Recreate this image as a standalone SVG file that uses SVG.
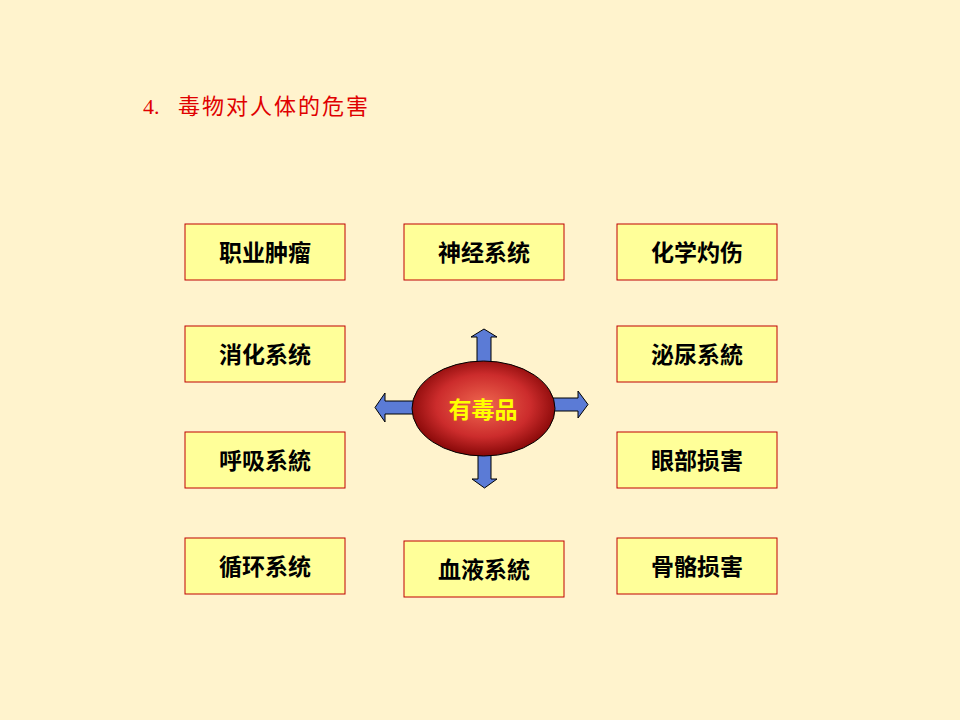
<svg xmlns="http://www.w3.org/2000/svg" width="960" height="720" viewBox="0 0 960 720">
  <defs>
    <style>
      .box { fill: #FFFF99; stroke: #C00000; stroke-width: 1; }
      .lbl { font-family: "Noto Sans CJK SC", "Liberation Serif", serif; font-size: 23px; font-weight: bold; fill: #000000; text-anchor: middle; dominant-baseline: central; }
      .arrow { fill: #5B7BD6; stroke: #000000; stroke-width: 1; stroke-linejoin: miter; }
      .title { font-family: "Liberation Serif", "Noto Sans CJK SC", serif; font-size: 22px; fill: #E00000; }
    </style>
    <radialGradient id="redGrad" cx="50%" cy="47%" r="55%">
      <stop offset="0" stop-color="#F06850"/>
      <stop offset="0.6" stop-color="#CC2C2C"/>
      <stop offset="1" stop-color="#800404"/>
    </radialGradient>
  </defs>
  <rect x="0" y="0" width="960" height="720" fill="#FFF3CD"/>

  <text class="title" x="143" y="114">4.<tspan x="178" font-family="Noto Sans CJK SC, sans-serif" font-size="22" letter-spacing="2">毒物对人体的危害</tspan></text>

  <g id="connectors">
    <polygon class="arrow" points="477,368 477,337 471,337 484,329 497,337 491,337 491,368"/>
    <polygon class="arrow" points="420,401 385,401 385,393 375,407.5 385,422 385,414 420,414"/>
    <polygon class="arrow" points="548,398 578,398 578,391 588,404.5 578,418 578,411 548,411"/>
    <polygon class="arrow" points="478,448 478,479 472,479 484.5,488 497,479 491,479 491,448"/>
  </g>

  <g id="center">
    <ellipse cx="483.5" cy="408.5" rx="71.5" ry="47.5" fill="url(#redGrad)" stroke="#000000" stroke-width="1"/>
    <text class="lbl" x="483" y="408" style="fill:#FFFF00">有毒品</text>
  </g>

  <g id="n1"><rect class="box" x="185" y="224" width="160" height="56"/><text class="lbl" x="265" y="251">职业肿瘤</text></g>
  <g id="n2"><rect class="box" x="404" y="224" width="160" height="56"/><text class="lbl" x="484" y="251">神经系统</text></g>
  <g id="n3"><rect class="box" x="617" y="224" width="160" height="56"/><text class="lbl" x="697" y="251">化学灼伤</text></g>
  <g id="n4"><rect class="box" x="185" y="326" width="160" height="56"/><text class="lbl" x="265" y="353">消化系统</text></g>
  <g id="n5"><rect class="box" x="617" y="326" width="160" height="56"/><text class="lbl" x="697" y="353">泌尿系統</text></g>
  <g id="n6"><rect class="box" x="185" y="432" width="160" height="56"/><text class="lbl" x="265" y="459">呼吸系統</text></g>
  <g id="n7"><rect class="box" x="617" y="432" width="160" height="56"/><text class="lbl" x="697" y="459">眼部损害</text></g>
  <g id="n8"><rect class="box" x="185" y="538" width="160" height="56"/><text class="lbl" x="265" y="565">循环系统</text></g>
  <g id="n9"><rect class="box" x="404" y="541" width="160" height="56"/><text class="lbl" x="484" y="568">血液系統</text></g>
  <g id="n10"><rect class="box" x="617" y="538" width="160" height="56"/><text class="lbl" x="697" y="565">骨骼损害</text></g>
</svg>
